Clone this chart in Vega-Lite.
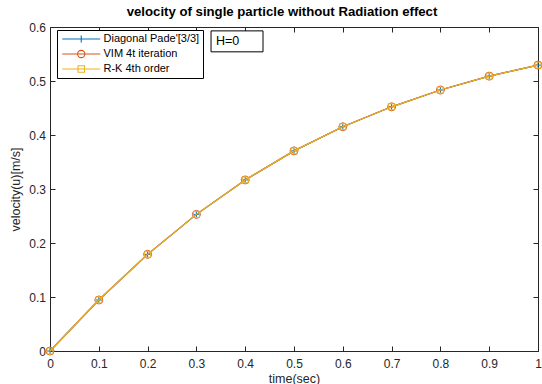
{
  "$schema": "https://vega.github.io/schema/vega-lite/v6.json",
  "width": 488,
  "height": 324,
  "autosize": "none",
  "padding": {"left": 50, "top": 27, "right": 4, "bottom": 33},
  "background": "white",
  "config": {
    "font": "Liberation Sans",
    "view": {"stroke": null},
    "axis": {
      "grid": false,
      "domainColor": "#262626",
      "tickColor": "#262626",
      "labelColor": "#262626",
      "titleColor": "#262626",
      "labelFontSize": 12,
      "titleFontSize": 12.5,
      "titleFontWeight": "normal",
      "tickSize": -5,
      "domainWidth": 1,
      "tickWidth": 1,
      "labelOverlap": false,
      "labelFlush": false
    }
  },
  "title": {
    "text": "velocity of single particle without Radiation effect",
    "fontSize": 13.2,
    "fontWeight": "bold",
    "color": "black",
    "offset": 2,
    "dx": -12
  },
  "data": {
    "values": [
      {"series": "Diagonal Pade'[3/3]", "t": 0.0, "u": 0.0},
      {"series": "Diagonal Pade'[3/3]", "t": 0.1, "u": 0.0945},
      {"series": "Diagonal Pade'[3/3]", "t": 0.2, "u": 0.179},
      {"series": "Diagonal Pade'[3/3]", "t": 0.3, "u": 0.253},
      {"series": "Diagonal Pade'[3/3]", "t": 0.4, "u": 0.3168},
      {"series": "Diagonal Pade'[3/3]", "t": 0.5, "u": 0.3706},
      {"series": "Diagonal Pade'[3/3]", "t": 0.6, "u": 0.4153},
      {"series": "Diagonal Pade'[3/3]", "t": 0.7, "u": 0.4522},
      {"series": "Diagonal Pade'[3/3]", "t": 0.8, "u": 0.4833},
      {"series": "Diagonal Pade'[3/3]", "t": 0.9, "u": 0.509},
      {"series": "Diagonal Pade'[3/3]", "t": 1.0, "u": 0.5294},
      {"series": "VIM 4t iteration", "t": 0.0, "u": 0.0},
      {"series": "VIM 4t iteration", "t": 0.1, "u": 0.0945},
      {"series": "VIM 4t iteration", "t": 0.2, "u": 0.179},
      {"series": "VIM 4t iteration", "t": 0.3, "u": 0.253},
      {"series": "VIM 4t iteration", "t": 0.4, "u": 0.3168},
      {"series": "VIM 4t iteration", "t": 0.5, "u": 0.3706},
      {"series": "VIM 4t iteration", "t": 0.6, "u": 0.4153},
      {"series": "VIM 4t iteration", "t": 0.7, "u": 0.4522},
      {"series": "VIM 4t iteration", "t": 0.8, "u": 0.4833},
      {"series": "VIM 4t iteration", "t": 0.9, "u": 0.509},
      {"series": "VIM 4t iteration", "t": 1.0, "u": 0.5294},
      {"series": "R-K 4th order", "t": 0.0, "u": 0.0},
      {"series": "R-K 4th order", "t": 0.1, "u": 0.0945},
      {"series": "R-K 4th order", "t": 0.2, "u": 0.179},
      {"series": "R-K 4th order", "t": 0.3, "u": 0.253},
      {"series": "R-K 4th order", "t": 0.4, "u": 0.3168},
      {"series": "R-K 4th order", "t": 0.5, "u": 0.3706},
      {"series": "R-K 4th order", "t": 0.6, "u": 0.4153},
      {"series": "R-K 4th order", "t": 0.7, "u": 0.4522},
      {"series": "R-K 4th order", "t": 0.8, "u": 0.4833},
      {"series": "R-K 4th order", "t": 0.9, "u": 0.509},
      {"series": "R-K 4th order", "t": 1.0, "u": 0.5294}
    ]
  },
  "layer": [
    {
      "transform": [{"filter": "datum.series == 'R-K 4th order'"}],
      "mark": {"type": "point", "filled": false, "strokeWidth": 1},
      "encoding": {
        "x": {
          "field": "t", "type": "quantitative",
          "scale": {"domain": [0, 1], "nice": false, "zero": false},
          "axis": {
            "orient": "bottom",
            "title": "time(sec)",
            "values": [0, 0.1, 0.2, 0.3, 0.4, 0.5, 0.6, 0.7, 0.8, 0.9, 1],
            "format": "~g",
            "labelPadding": 12,
            "titlePadding": 3
          }
        },
        "y": {
          "field": "u", "type": "quantitative",
          "scale": {"domain": [0, 0.6], "nice": false, "zero": false},
          "axis": {
            "orient": "left",
            "title": "velocity(u)[m/s]",
            "values": [0, 0.1, 0.2, 0.3, 0.4, 0.5, 0.6],
            "format": "~g",
            "labelPadding": 9.5,
            "titlePadding": 6
          }
        },
        "color": {
          "field": "series", "type": "nominal",
          "scale": {
            "domain": ["Diagonal Pade'[3/3]", "VIM 4t iteration", "R-K 4th order"],
            "range": ["#0072BD", "#D95319", "#EDB120"]
          },
          "legend": {
            "orient": "none",
            "legendX": 7,
            "legendY": 3,
            "title": null,
            "strokeColor": "black",
            "fillColor": "white",
            "padding": 3.5,
            "labelFontSize": 11,
            "labelColor": "black",
            "labelOffset": 32,
            "symbolSize": 64,
            "symbolStrokeWidth": 1.1,
            "rowPadding": 2
          }
        },
        "shape": {
          "field": "series", "type": "nominal",
          "scale": {
            "domain": ["Diagonal Pade'[3/3]", "VIM 4t iteration", "R-K 4th order"],
            "range": [
              "M-0.94,0H8.56M3.81,-0.9V0.9",
              "M-0.94,0H8.56M4.72,0A0.91,0.91 0 1,1 2.9,0A0.91,0.91 0 1,1 4.72,0",
              "M-0.94,0H8.56M3.0,-0.81H4.62V0.81H3.0Z"
            ]
          },
          "legend": {
            "orient": "none",
            "legendX": 7,
            "legendY": 3,
            "title": null,
            "strokeColor": "black",
            "fillColor": "white",
            "padding": 3.5,
            "labelFontSize": 11,
            "labelColor": "black",
            "labelOffset": 32,
            "symbolSize": 64,
            "symbolStrokeWidth": 1.1,
            "rowPadding": 2
          }
        },
        "size": {"value": 0},
        "opacity": {"value": 0}
      }
    },
    {
      "transform": [{"filter": "datum.series == 'Diagonal Pade\\'[3/3]'"}],
      "mark": {
        "type": "line", "color": "#0072BD", "strokeWidth": 1.2,
        "point": {"shape": "M-1,0H1M0,-1V1", "filled": false, "size": 36, "color": "#0072BD", "strokeWidth": 1}
      },
      "encoding": {
        "x": {"field": "t", "type": "quantitative", "axis": {"orient": "top", "labels": false, "title": null, "values": [0, 0.1, 0.2, 0.3, 0.4, 0.5, 0.6, 0.7, 0.8, 0.9, 1]}},
        "y": {"field": "u", "type": "quantitative", "axis": {"orient": "right", "labels": false, "title": null, "values": [0, 0.1, 0.2, 0.3, 0.4, 0.5, 0.6]}}
      }
    },
    {
      "transform": [{"filter": "datum.series == 'VIM 4t iteration'"}],
      "mark": {
        "type": "line", "color": "#D95319", "strokeWidth": 1.2,
        "point": {"shape": "circle", "filled": false, "size": 64, "color": "#D95319", "strokeWidth": 1}
      },
      "encoding": {
        "x": {"field": "t", "type": "quantitative", "axis": null},
        "y": {"field": "u", "type": "quantitative", "axis": null}
      }
    },
    {
      "transform": [{"filter": "datum.series == 'R-K 4th order'"}],
      "mark": {
        "type": "line", "color": "#EDB120", "strokeWidth": 1.2,
        "point": {"shape": "square", "filled": false, "size": 36, "color": "#EDB120", "strokeWidth": 1}
      },
      "encoding": {
        "x": {"field": "t", "type": "quantitative", "axis": null},
        "y": {"field": "u", "type": "quantitative", "axis": null}
      }
    },
    {
      "data": {"values": [{"label": "H=0"}]},
      "mark": {"type": "rect", "fill": "white", "stroke": "black", "strokeWidth": 1},
      "encoding": {
        "x": {"datum": 0.33, "type": "quantitative", "axis": null},
        "x2": {"datum": 0.4365},
        "y": {"datum": 0.5928, "type": "quantitative", "axis": null},
        "y2": {"datum": 0.554}
      }
    },
    {
      "data": {"values": [{"label": "H=0"}]},
      "mark": {"type": "text", "align": "left", "baseline": "middle", "fontSize": 12.5, "fill": "black"},
      "encoding": {
        "x": {"datum": 0.34, "type": "quantitative", "axis": null},
        "y": {"datum": 0.5735, "type": "quantitative", "axis": null},
        "text": {"field": "label"}
      }
    }
  ],
  "resolve": {"axis": {"x": "independent", "y": "independent"}}
}
